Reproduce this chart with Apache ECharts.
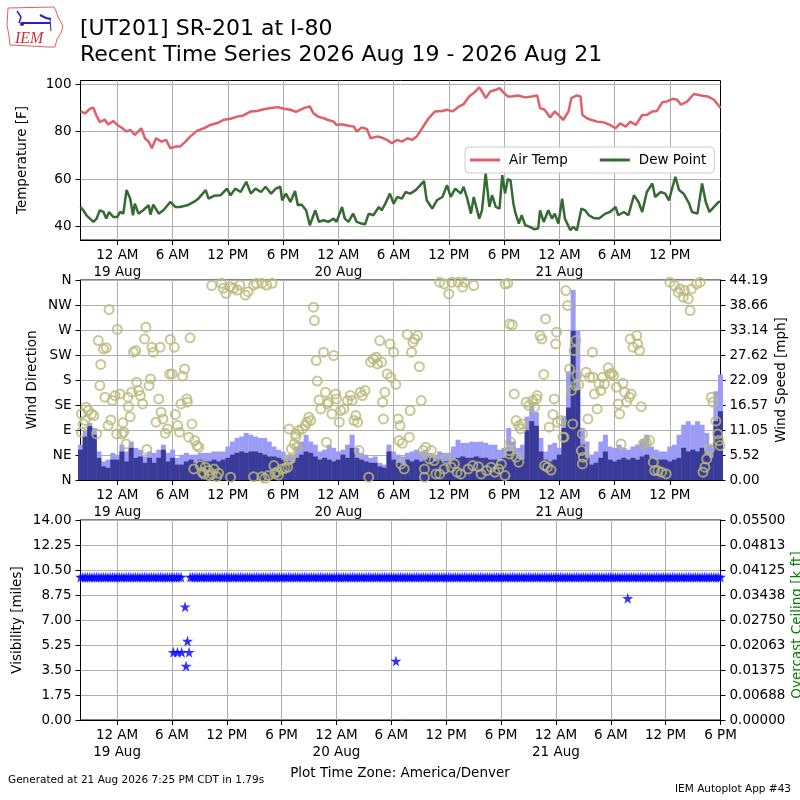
<!DOCTYPE html>
<html>
<head>
<meta charset="utf-8">
<title>[UT201] SR-201 at I-80</title>
<script src="https://cdn.jsdelivr.net/npm/echarts@6/dist/echarts.min.js"></script>
<style>
html, body { margin: 0; padding: 0; background: #fff; }
#main { width: 800px; height: 800px; }
</style>
</head>
<body>
<div id="main"></div>
<script>
// hours are counted from 12 AM 19 Aug (America/Denver)
var tickHours = [0, 6, 12, 18, 24, 30, 36, 42, 48, 54, 60];
var tickHoursVis = [0, 6, 12, 18, 24, 30, 36, 42, 48, 54, 60, 66];
var tempTicks = [40, 60, 80, 100];
var dirLabels = ['N', 'NE', 'E', 'SE', 'S', 'SW', 'W', 'NW', 'N'];

// [hour, F]
var airTemp = [
    [-4.0, 88.5], [-3.5, 87.7], [-3.0, 89.6], [-2.6, 90.1], [-2.3, 87], [-1.9, 84], [-1.35, 85], [-1.0, 83],
    [-0.45, 84.5], [0, 82.8], [0.45, 81.7], [1.0, 80], [1.4, 80.7], [1.9, 78.6], [2.6, 81.4], [3.0, 77.2],
    [3.4, 75.8], [3.75, 73], [4.2, 77.2], [4.8, 75.8], [5.3, 76.5], [5.75, 73], [6.3, 73.7], [6.8, 73.7],
    [7.4, 75.8], [7.9, 77.9], [8.65, 80.3], [9.4, 81.4], [10.1, 82.8], [10.8, 83.5], [11.6, 85], [12.3, 85.4],
    [13.0, 86.3], [13.7, 86.8], [14.5, 88.5], [15.2, 88.7], [15.9, 89.4], [16.7, 89.9], [17.4, 90.3], [18.1, 89.6],
    [18.8, 89.2], [19.4, 88.3], [19.9, 89.2], [20.4, 90.1], [20.9, 90.6], [21.3, 87.7], [21.8, 86.3], [22.4, 85.6],
    [22.9, 84.9], [23.5, 84.2], [23.8, 82.8], [24.4, 83.1], [25.1, 82.5], [25.7, 82.1], [26.0, 80], [26.5, 81.7],
    [27.1, 81.1], [27.5, 77.2], [28.2, 77.9], [28.7, 77.5], [29.3, 76.5], [29.8, 75.1], [30.4, 76.5], [30.9, 75.8],
    [31.5, 77.2], [32.0, 76.5], [32.5, 77.9], [33.1, 81.4], [33.8, 85.6], [34.5, 88.5], [35.3, 88.7], [35.8, 89.2],
    [36.4, 88.5], [37.1, 90.6], [37.6, 91.5], [38.2, 94.8], [38.7, 96.2], [39.3, 98.6], [39.6, 96.9], [40.0, 94.1],
    [40.5, 96.9], [41.1, 97.6], [41.5, 98.3], [42.0, 96.2], [42.4, 94.8], [42.8, 94.8], [43.5, 95.2], [44.3, 94.4],
    [45.0, 94.8], [45.6, 95.2], [45.9, 89.9], [46.4, 89.2], [47.0, 85.9], [47.5, 88.5], [48.1, 86.3], [48.4, 84.9],
    [49.0, 88.5], [49.3, 94.1], [49.9, 95.2], [50.3, 94.8], [50.5, 87], [51.0, 85.6], [51.5, 84.9], [52.1, 84.2],
    [52.8, 83.9], [53.5, 82.8], [54.1, 81.4], [54.6, 83.5], [55.2, 82.1], [55.7, 84.2], [56.3, 82.8], [57.0, 87],
    [57.5, 87], [58.1, 88.5], [58.6, 88.7], [59.2, 92.4], [59.7, 92.7], [60.3, 93.8], [60.8, 93.4], [61.2, 91.3],
    [61.9, 92.7], [62.6, 95.8], [63.4, 95.2], [64.1, 94.8], [64.8, 93.4], [65.5, 89.9]
];

var dewPoint = [
    [-4.0, 48.3], [-3.7, 46.9], [-3.35, 44.8], [-2.6, 42], [-2.25, 43.4], [-1.9, 46.9], [-1.5, 46.2], [-1.2, 43.4],
    [-0.9, 46.2], [-0.44, 44.1], [0, 44.1], [0.3, 46.2], [0.65, 45.5], [1.0, 55.4], [1.4, 51.8], [1.7, 44.8],
    [1.9, 49.7], [2.3, 45.5], [2.8, 46.9], [3.4, 49], [3.6, 45.1], [3.9, 49.3], [4.5, 45.5], [5.0, 46.9],
    [5.75, 50.4], [6.3, 48.3], [6.8, 48.3], [7.6, 49], [8.3, 50.4], [8.8, 51.8], [9.6, 55.4], [9.9, 51.8],
    [10.5, 53], [11.2, 53.2], [11.9, 56], [12.3, 53.2], [12.8, 56], [13.4, 54.6], [14.0, 58.9], [14.5, 53.9],
    [15.0, 56], [15.6, 54.6], [16.1, 56.8], [16.7, 53.9], [17.2, 56], [17.7, 56.8], [17.9, 51.1], [18.3, 53.9],
    [18.8, 50.4], [19.3, 55], [19.6, 49], [20.0, 49.3], [20.5, 46.9], [20.9, 40.6], [21.5, 46.9], [21.9, 42],
    [22.4, 42.7], [22.9, 42], [23.5, 43.4], [23.8, 42], [24.4, 48.3], [24.7, 43.4], [25.1, 42], [25.6, 45.5],
    [26.0, 42], [26.5, 41.3], [26.9, 41], [27.3, 45.5], [27.8, 44.8], [28.4, 48.3], [28.7, 46.9], [29.1, 49.7],
    [29.6, 53.9], [30.0, 49.7], [30.4, 52.5], [30.9, 51.8], [31.3, 54.6], [31.8, 53.9], [32.4, 55.4], [32.9, 57.5],
    [33.3, 59.2], [33.6, 51.1], [34.2, 47.6], [34.7, 51.1], [35.3, 52.5], [35.8, 57.5], [36.2, 52.5], [36.7, 56],
    [37.3, 53.9], [37.6, 56.8], [38.0, 51.8], [38.4, 45.5], [38.7, 52.5], [39.3, 43.4], [39.6, 46.9], [40.0, 62.4],
    [40.4, 48.3], [40.7, 53.2], [41.1, 48.3], [41.5, 47.6], [41.8, 61.7], [42.1, 54], [42.4, 60], [42.7, 59.5],
    [43.0, 50], [43.2, 46.2], [43.6, 41.3], [43.9, 44.8], [44.3, 40.6], [44.8, 39.9], [45.3, 38.9], [45.7, 39.2],
    [45.9, 46.9], [46.3, 42], [46.8, 46.9], [47.2, 43.4], [47.5, 45.5], [47.9, 41.3], [48.3, 51.8], [48.6, 43.4],
    [49.2, 38.5], [49.5, 39.9], [49.9, 38.5], [50.4, 47.6], [50.8, 46.9], [51.2, 44.8], [51.7, 43.7], [52.3, 43.4],
    [53.0, 45.5], [53.5, 46.2], [54.1, 48.3], [54.4, 44.8], [55.0, 46.2], [55.5, 44.8], [56.1, 53.2], [56.6, 50.4],
    [57.0, 46.2], [57.5, 54.6], [58.1, 58.2], [58.4, 52.5], [59.0, 54.6], [59.5, 53.9], [59.9, 51.1], [60.3, 56.8],
    [60.6, 61], [61.0, 55.4], [61.5, 53.9], [62.1, 49.7], [62.4, 46.2], [63.0, 45.5], [63.5, 58.2], [63.9, 50.4],
    [64.3, 46.2], [64.8, 48.3], [65.3, 50.4], [65.5, 50.5]
];

// half hourly wind obs times
var windHours = [
    -4, -3.5, -3, -2.5, -2, -1.5, -1, -0.5,
    0, 0.5, 1, 1.5, 2, 2.5, 3, 3.5, 4, 4.5, 5, 5.5, 6, 6.5, 7, 7.5, 8, 8.5, 9, 9.5, 10, 10.5, 11, 11.5,
    12, 12.5, 13, 13.5, 14, 14.5, 15, 15.5, 16, 16.5, 17, 17.5, 18, 18.5, 19, 19.5, 20, 20.5, 21, 21.5, 22, 22.5, 23, 23.5,
    24, 24.5, 25, 25.5, 26, 26.5, 27, 27.5, 28, 28.5, 29, 29.5, 30, 30.5, 31, 31.5, 32, 32.5, 33, 33.5, 34, 34.5, 35, 35.5,
    36, 36.5, 37, 37.5, 38, 38.5, 39, 39.5, 40, 40.5, 41, 41.5, 42, 42.5, 43, 43.5, 44, 44.5, 45, 45.5, 46, 46.5, 47, 47.5,
    48, 48.5, 49, 49.5, 50, 50.5, 51, 51.5, 52, 52.5, 53, 53.5, 54, 54.5, 55, 55.5, 56, 56.5, 57, 57.5, 58, 58.5, 59, 59.5,
    60, 60.5, 61, 61.5, 62, 62.5, 63, 63.5, 64, 64.5, 65, 65.5
];

// mph
var windSpeed = [
    6.7, 9.6, 11.9, 10, 4.9, 3, 2.7, 4.5,
    4.5, 6.3, 4.1, 7.1, 4.9, 5.2, 3.8, 4.9,
    3.8, 4.9, 6.7, 4.1, 4.9, 3.4, 3.4, 4.1,
    4.5, 3.8, 4.5, 4.1, 4.1, 4.5, 4.1, 4.5,
    4.9, 5.6, 6, 6.3, 6, 6.3, 6.3, 6,
    5.6, 5.2, 5.2, 4.9, 4.5, 4.1, 3.8, 4.9,
    5.6, 6.3, 6, 5.2, 4.5, 4.9, 4.5, 4.1,
    4.5, 5.6, 4.9, 7.1, 4.9, 4.5, 4.1, 3.8,
    3.8, 3, 2.7, 6.3, 4.5, 3.8, 3.4, 4.5,
    4.1, 4.5, 4.1, 4.5, 4.9, 4.1, 4.5, 4.1,
    4.1, 4.5, 4.9, 5.2, 4.9, 4.9, 5.2, 4.9,
    4.9, 4.5, 4.5, 4.1, 4.9, 6.3, 6.3, 4.9,
    4.5, 11, 13, 12, 6.3, 4.5, 4.1, 4.5,
    5.6, 11.5, 16, 33, 20, 7.8, 4.9, 3.4,
    3.8, 4.9, 6.3, 4.5, 4.1, 4.5, 4.9, 4.5,
    4.9, 4.5, 5.2, 5.6, 4.9, 4.5, 4.5, 4.5,
    4.1, 4.5, 4.9, 7.1, 6.3, 6.7, 6.3, 7.1,
    5.6, 4.9, 13, 15.2
];

var windGust = [
    7.8, 11, 12.6, 11.5, 6.3, 4.1, 4.5, 6,
    5.6, 7.8, 6.3, 8.5, 7.1, 6.7, 5.2, 6.3,
    6, 6.7, 7.8, 6, 6.7, 4.9, 5.6, 6,
    5.6, 5.6, 6, 6, 6, 6.3, 6.3, 6.3,
    7.4, 8.5, 9.3, 9.6, 10.4, 10, 9.6, 9.3,
    9.3, 8.5, 7.4, 6.7, 6.3, 5.6, 5.6, 7.4,
    8.5, 10, 8.5, 7.8, 6.3, 6.7, 7.8, 7.1,
    6.3, 6.7, 7.8, 10, 7.1, 6, 5.6, 4.9,
    5.2, 3.8, 3.4, 7.8, 6.3, 5.6, 5.2, 6,
    6.3, 6.7, 6.3, 6.7, 6, 5.6, 6.3, 6,
    6, 7.4, 8.9, 8.2, 8.2, 8.5, 8.4, 8.5,
    8.2, 7.8, 7.8, 6.7, 7.1, 11.5, 8.5, 7.1,
    7.8, 14, 17, 15, 9.3, 6.3, 7.8, 8.2,
    7.1, 14.1, 24, 42, 33, 11.5, 8.5, 5.6,
    6.3, 8.5, 10, 7.4, 7.1, 7.8, 7.1, 6.7,
    7.4, 7.8, 8.9, 10, 7.4, 6.7, 6.3, 6.3,
    7.4, 7.8, 10, 12.2, 13, 12.2, 13, 12.2,
    10.4, 7.8, 19.6, 23.3
];

// [hour, degrees]
var windDir = [
    [-3.9, 119], [-3.9, 86], [-3.7, 101], [-3.5, 107], [-3.4, 131], [-3.15, 125], [-2.8, 119], [-2.55, 116], [-2.25, 83], [-2.07, 251],
    [-1.9, 170], [-1.8, 208], [-1.5, 236], [-1.35, 149], [-1.2, 238], [-1.0, 98], [-0.9, 307], [-0.7, 108], [-0.55, 143], [-0.25, 152],
    [-0.07, 83], [0, 271], [0.3, 155], [0.5, 83], [0.6, 103], [0.7, 86], [0.95, 65], [1.15, 149], [1.2, 132], [1.4, 114],
    [1.55, 158], [1.75, 230], [2.0, 233], [2.1, 176], [2.3, 161], [2.5, 152], [2.75, 137], [2.95, 254], [3.1, 275], [3.2, 55],
    [3.45, 170], [3.6, 182], [3.75, 239], [3.9, 230], [4.2, 104], [4.5, 146], [4.65, 239], [4.75, 122], [4.95, 110], [5.2, 84],
    [5.45, 92], [5.7, 191], [5.75, 253], [5.95, 191], [6.2, 239], [6.3, 118], [6.55, 98], [6.75, 86], [6.9, 137], [7.1, 187],
    [7.3, 200], [7.55, 146], [7.6, 140], [7.75, 77], [7.9, 256], [8.1, 101], [8.3, 20], [8.4, 71], [8.65, 62], [8.85, 59],
    [9.0, 26], [9.2, 14], [9.4, 11], [9.55, 23], [9.9, 17], [10.0, 8], [10.25, 350], [10.3, 11], [10.5, 20], [10.8, 6],
    [11.0, 12], [11.3, 354], [11.5, 345], [11.8, 336], [12.25, 348], [12.3, 5], [12.6, 345], [13.0, 342], [13.3, 351], [13.9, 333],
    [14.2, 339], [14.8, 351], [14.8, 6], [15.1, 354], [15.7, 354], [15.7, 6], [16.0, 3], [16.2, 351], [16.4, 8], [16.8, 354],
    [17.0, 26], [17.1, 12], [17.4, 15], [17.5, 9], [17.9, 20], [18.2, 21], [18.5, 23], [18.6, 36], [18.65, 92], [18.8, 38],
    [18.9, 56], [19.2, 65], [19.35, 83], [19.4, 78], [19.5, 59], [19.7, 89], [20.1, 92], [20.4, 98], [20.6, 104], [20.8, 113],
    [21.0, 107], [21.3, 311], [21.4, 287], [21.6, 215], [21.7, 178], [21.9, 144], [22.1, 128], [22.4, 230], [22.6, 158], [22.7, 68],
    [22.8, 137], [22.95, 140], [23.3, 119], [23.5, 224], [23.7, 155], [23.8, 146], [24.1, 104], [24.25, 125], [24.6, 128], [25.0, 143],
    [25.3, 152], [25.5, 143], [25.7, 107], [25.9, 116], [26.1, 104], [26.25, 53], [26.4, 158], [26.6, 152], [26.9, 161], [27.3, 5],
    [27.5, 212], [27.8, 218], [28.1, 221], [28.25, 209], [28.5, 251], [28.7, 212], [28.8, 140], [28.9, 110], [29.05, 158], [29.3, 191],
    [29.6, 245], [29.7, 185], [30.0, 230], [30.25, 172], [30.5, 110], [30.6, 71], [30.7, 98], [30.8, 29], [30.95, 66], [31.15, 20],
    [31.5, 262], [31.7, 77], [31.8, 125], [31.95, 230], [32.1, 248], [32.3, 254], [32.6, 260], [32.8, 204], [33.0, 143], [33.2, 53],
    [33.35, 20], [33.35, 5], [33.5, 59], [33.9, 38], [34.1, 53], [34.4, 35], [34.6, 11], [35.0, 11], [35.0, 356], [35.5, 20],
    [35.5, 353], [35.7, 38], [36.0, 335], [36.25, 23], [36.3, 356], [36.6, 29], [36.9, 14], [37.0, 356], [37.3, 11], [37.5, 347],
    [37.7, 356], [38.1, 20], [38.6, 26], [38.7, 350], [39.2, 24], [39.5, 11], [40.1, 17], [40.6, 23], [41.0, 14], [41.4, 20],
    [41.7, 29], [42.1, 8], [42.1, 353], [42.4, 354], [42.55, 53], [42.6, 47], [42.6, 281], [42.7, 68], [42.9, 279], [43.1, 155],
    [43.3, 107], [43.3, 41], [43.6, 98], [43.6, 32], [43.8, 92], [43.95, 101], [44.4, 140], [44.7, 134], [45.1, 143], [45.3, 131],
    [45.5, 146], [45.6, 152], [45.9, 260], [46.1, 254], [46.3, 190], [46.4, 26], [46.5, 290], [46.7, 23], [46.9, 95], [47.1, 18],
    [47.3, 118], [47.45, 146], [47.6, 245], [47.7, 266], [47.8, 104], [48.2, 107], [48.4, 77], [48.5, 77], [48.7, 341], [48.9, 314],
    [49.1, 200], [49.3, 161], [49.45, 101], [49.6, 233], [49.75, 170], [49.8, 251], [49.9, 188], [50.1, 172], [50.4, 53], [50.5, 83],
    [50.5, 29], [50.6, 41], [50.9, 194], [51.1, 110], [51.3, 185], [51.6, 230], [51.65, 185], [51.8, 155], [52.1, 128], [52.3, 173],
    [52.5, 161], [52.7, 185], [52.9, 173], [53.3, 202], [53.45, 191], [53.7, 192], [53.9, 188], [54.2, 167], [54.4, 137], [54.55, 119],
    [54.7, 65], [54.9, 174], [55.1, 158], [55.3, 140], [55.6, 149], [55.7, 254], [55.8, 155], [56.0, 239], [56.4, 260], [56.5, 245],
    [56.7, 233], [56.9, 132], [57.1, 65], [57.45, 68], [57.8, 71], [58.2, 32], [58.35, 17], [58.7, 17], [59.1, 14], [59.6, 11],
    [60.0, 356], [60.5, 350], [60.9, 338], [61.1, 344], [61.45, 329], [61.6, 341], [62.0, 326], [62.2, 305], [62.35, 344], [62.9, 353],
    [63.3, 356], [63.6, 14], [63.8, 23], [64.0, 38], [64.3, 56], [64.5, 149], [64.7, 140], [65.0, 106], [65.2, 83], [65.3, 71],
    [65.45, 62]
];

// quarter hourly visibility obs times
var visHours = [
    -4, -3.75, -3.5, -3.25, -3, -2.75, -2.5, -2.25, -2, -1.75, -1.5, -1.25, -1, -0.75, -0.5, -0.25,
    0, 0.25, 0.5, 0.75, 1, 1.25, 1.5, 1.75, 2, 2.25, 2.5, 2.75, 3, 3.25, 3.5, 3.75, 4, 4.25, 4.5, 4.75, 5, 5.25, 5.5, 5.75,
    6, 6.25, 6.5, 6.75, 7, 7.25, 7.5, 7.75, 8, 8.25, 8.5, 8.75, 9, 9.25, 9.5, 9.75, 10, 10.25, 10.5, 10.75, 11, 11.25, 11.5, 11.75,
    12, 12.25, 12.5, 12.75, 13, 13.25, 13.5, 13.75, 14, 14.25, 14.5, 14.75, 15, 15.25, 15.5, 15.75, 16, 16.25, 16.5, 16.75,
    17, 17.25, 17.5, 17.75, 18, 18.25, 18.5, 18.75, 19, 19.25, 19.5, 19.75, 20, 20.25, 20.5, 20.75, 21, 21.25, 21.5, 21.75,
    22, 22.25, 22.5, 22.75, 23, 23.25, 23.5, 23.75,
    24, 24.25, 24.5, 24.75, 25, 25.25, 25.5, 25.75, 26, 26.25, 26.5, 26.75, 27, 27.25, 27.5, 27.75, 28, 28.25, 28.5, 28.75,
    29, 29.25, 29.5, 29.75, 30, 30.25, 30.5, 30.75, 31, 31.25, 31.5, 31.75, 32, 32.25, 32.5, 32.75, 33, 33.25, 33.5, 33.75,
    34, 34.25, 34.5, 34.75, 35, 35.25, 35.5, 35.75,
    36, 36.25, 36.5, 36.75, 37, 37.25, 37.5, 37.75, 38, 38.25, 38.5, 38.75, 39, 39.25, 39.5, 39.75, 40, 40.25, 40.5, 40.75,
    41, 41.25, 41.5, 41.75, 42, 42.25, 42.5, 42.75, 43, 43.25, 43.5, 43.75, 44, 44.25, 44.5, 44.75, 45, 45.25, 45.5, 45.75,
    46, 46.25, 46.5, 46.75, 47, 47.25, 47.5, 47.75,
    48, 48.25, 48.5, 48.75, 49, 49.25, 49.5, 49.75, 50, 50.25, 50.5, 50.75, 51, 51.25, 51.5, 51.75, 52, 52.25, 52.5, 52.75,
    53, 53.25, 53.5, 53.75, 54, 54.25, 54.5, 54.75, 55, 55.25, 55.5, 55.75, 56, 56.25, 56.5, 56.75, 57, 57.25, 57.5, 57.75,
    58, 58.25, 58.5, 58.75, 59, 59.25, 59.5, 59.75,
    60, 60.25, 60.5, 60.75, 61, 61.25, 61.5, 61.75, 62, 62.25, 62.5, 62.75, 63, 63.25, 63.5, 63.75, 64, 64.25, 64.5, 64.75,
    65, 65.25, 65.5, 65.75, 66
];

// miles (null = no report)
var visMiles = [
    10, 10, 10, 10, 10, 10, 10, 10, 10, 10, 10, 10, 10, 10, 10, 10,
    10, 10, 10, 10, 10, 10, 10, 10, 10, 10, 10, 10, 10, 10, 10, 10, 10, 10, 10, 10, 10, 10, 10, 10,
    10, 10, 10, 10, 10, null, null, null, 10, 10, 10, 10, 10, 10, 10, 10, 10, 10, 10, 10, 10, 10, 10, 10,
    10, 10, 10, 10, 10, 10, 10, 10, 10, 10, 10, 10, 10, 10, 10, 10, 10, 10, 10, 10,
    10, 10, 10, 10, 10, 10, 10, 10, 10, 10, 10, 10, 10, 10, 10, 10, 10, 10, 10, 10,
    10, 10, 10, 10, 10, 10, 10, 10,
    10, 10, 10, 10, 10, 10, 10, 10, 10, 10, 10, 10, 10, 10, 10, 10, 10, 10, 10, 10,
    10, 10, 10, 10, 10, 10, 10, 10, 10, 10, 10, 10, 10, 10, 10, 10, 10, 10, 10, 10,
    10, 10, 10, 10, 10, 10, 10, 10,
    10, 10, 10, 10, 10, 10, 10, 10, 10, 10, 10, 10, 10, 10, 10, 10, 10, 10, 10, 10,
    10, 10, 10, 10, 10, 10, 10, 10, 10, 10, 10, 10, 10, 10, 10, 10, 10, 10, 10, 10,
    10, 10, 10, 10, 10, 10, 10, 10,
    10, 10, 10, 10, 10, 10, 10, 10, 10, 10, 10, 10, 10, 10, 10, 10, 10, 10, 10, 10,
    10, 10, 10, 10, 10, 10, 10, 10, 10, 10, 10, 10, 10, 10, 10, 10, 10, 10, 10, 10,
    10, 10, 10, 10, 10, 10, 10, 10,
    10, 10, 10, 10, 10, 10, 10, 10, 10, 10, 10, 10, 10, 10, 10, 10, 10, 10, 10, 10,
    10, 10, 10, 10, 10
];

// reduced visibility reports [hour, miles]
var visLow = [
    [6.15, 4.74], [6.6, 4.74], [7.07, 4.74], [7.44, 7.93], [7.55, 3.78], [7.7, 5.53], [7.88, 4.74],
    [30.5, 4.13], [55.85, 8.52]
];

var FONT = 'DejaVu Sans';
var STAR = 'path://M50,0 L61,35 L98,35 L68,57 L79,91 L50,70 L21,91 L32,57 L2,35 L39,35 Z';

function hourLabel(v) {
    var h = ((v % 24) + 24) % 24;
    if (h === 0) return '12 AM\n' + (19 + v / 24) + ' Aug';
    if (h === 6) return '6 AM';
    if (h === 12) return '12 PM';
    return '6 PM';
}

function timeAxis(gi, max, ticks) {
    return {
        type: 'value',
        gridIndex: gi,
        min: -4,
        max: max,
        axisLine: { show: true, onZero: false, lineStyle: { color: '#000' } },
        axisTick: { show: true, length: 5, customValues: ticks, lineStyle: { color: '#000' } },
        axisLabel: {
            customValues: ticks, formatter: hourLabel, color: '#000',
            fontFamily: FONT, fontSize: 13.5, lineHeight: 17, margin: 7
        },
        splitLine: { show: true, lineStyle: { color: '#b0b0b0', width: 1 } }
    };
}

function valAxis(gi, pos, min, max, interval, fmt, split) {
    var ax = {
        type: 'value',
        gridIndex: gi,
        position: pos,
        min: min,
        max: max,
        axisLine: { show: true, onZero: false, lineStyle: { color: '#000' } },
        axisTick: { show: true, length: 5, lineStyle: { color: '#000' } },
        axisLabel: { formatter: fmt, color: '#000', fontFamily: FONT, fontSize: 13.5, margin: 9 },
        splitLine: { show: split, lineStyle: { color: '#b0b0b0', width: 1 } }
    };
    if (interval) ax.interval = interval;
    return ax;
}

function pairs(xs, ys) {
    var out = [];
    for (var i = 0; i < ys.length; i++) {
        if (ys[i] !== null) out.push([xs[i], ys[i]]);
    }
    return out;
}

function axisTitle(text, x, y, color) {
    return {
        type: 'text', x: x, y: y, rotation: Math.PI / 2,
        style: {
            text: text, x: 0, y: 0, align: 'center', verticalAlign: 'middle',
            fill: color || '#000', font: '13.5px "DejaVu Sans"'
        }
    };
}

var myChart = echarts.init(document.getElementById('main'));

var tempY = valAxis(0, 'left', 34.4, 101.5, null, null, true);
tempY.axisTick.customValues = tempTicks;
tempY.axisLabel.customValues = tempTicks;

var option = {
    animation: false,
    backgroundColor: '#fff',
    grid: [
        { left: 80.5, top: 80.5, width: 640, height: 159.5, show: true, borderColor: '#000', borderWidth: 1 },
        { left: 80.5, top: 280, width: 640, height: 200, show: true, borderColor: '#000', borderWidth: 1 },
        { left: 80.5, top: 520, width: 640, height: 200, show: true, borderColor: '#000', borderWidth: 1 }
    ],
    xAxis: [
        timeAxis(0, 65.5, tickHours),
        timeAxis(1, 65.5, tickHours),
        timeAxis(2, 66, tickHoursVis)
    ],
    yAxis: [
        tempY,
        valAxis(1, 'left', 0, 360, 45, function (v) { return dirLabels[Math.round(v / 45)]; }, true),
        valAxis(1, 'right', 0, 44.186, 5.52325, function (v) { return v.toFixed(2); }, false),
        valAxis(2, 'left', 0, 14, 1.75, function (v) { return v.toFixed(2); }, true),
        valAxis(2, 'right', 0, 0.055, 0.006875, function (v) { return (v + 1e-9).toFixed(5); }, false)
    ],
    legend: {
        data: ['Air Temp', 'Dew Point'],
        left: 465, top: 147,
        icon: 'rect',
        itemWidth: 30, itemHeight: 3, itemGap: 32,
        padding: [6, 8, 6, 5],
        borderColor: '#cccccc', borderWidth: 1, borderRadius: 4,
        backgroundColor: 'rgba(255,255,255,0.85)',
        textStyle: { color: '#000', fontFamily: FONT, fontSize: 13.5, padding: [0, 0, 0, 4] }
    },
    graphic: [
        // IEM logo
        { type: 'polyline', shape: { points: [[8, 8], [54, 7], [56, 11], [58, 17], [63, 26], [61, 33], [57, 39], [55, 47], [49, 47], [10, 45], [9, 36], [7, 25], [8, 8]] },
          style: { stroke: '#e06060', fill: 'none', lineWidth: 1 } },
        { type: 'polyline', shape: { points: [[17, 11], [21, 17], [19, 23]] }, style: { stroke: '#2020d0', lineWidth: 1.5, fill: 'none' } },
        { type: 'line', shape: { x1: 21, y1: 23, x2: 50, y2: 23 }, style: { stroke: '#2020d0', lineWidth: 2 } },
        { type: 'polyline', shape: { points: [[40, 15], [46, 18], [51, 19]] }, style: { stroke: '#2020d0', lineWidth: 2, fill: 'none' } },
        { type: 'line', shape: { x1: 50, y1: 19, x2: 51, y2: 31 }, style: { stroke: '#2020d0', lineWidth: 1 } },
        { type: 'circle', shape: { cx: 22, cy: 24, r: 2 }, style: { fill: '#2020d0' } },
        { type: 'text', x: 15, y: 39, style: { text: 'IEM', fill: '#d03030', font: 'italic 16px "Liberation Serif"', verticalAlign: 'middle' } },
        // titles
        { type: 'text', x: 80, y: 29, style: { text: '[UT201] SR-201 at I-80', fill: '#000', font: '22px "DejaVu Sans"', verticalAlign: 'middle' } },
        { type: 'text', x: 80, y: 55.5, style: { text: 'Recent Time Series 2026 Aug 19 - 2026 Aug 21', fill: '#000', font: '22px "DejaVu Sans"', verticalAlign: 'middle' } },
        // axis titles
        axisTitle('Temperature [F]', 22.5, 160),
        axisTitle('Wind Direction', 32.5, 380),
        axisTitle('Wind Speed [mph]', 781, 380),
        axisTitle('Visibility [miles]', 17.5, 620),
        axisTitle('Overcast Ceiling [k ft]', 797, 625, '#008000'),
        // footer
        { type: 'text', x: 400, y: 773, style: { text: 'Plot Time Zone: America/Denver', fill: '#000', font: '13.5px "DejaVu Sans"', align: 'center', verticalAlign: 'middle' } },
        { type: 'text', x: 8, y: 780.5, style: { text: 'Generated at 21 Aug 2026 7:25 PM CDT in 1.79s', fill: '#000', font: '10.5px "DejaVu Sans"', verticalAlign: 'middle' } },
        { type: 'text', x: 791, y: 789.5, style: { text: 'IEM Autoplot App #43', fill: '#000', font: '10.5px "DejaVu Sans"', align: 'right', verticalAlign: 'middle' } }
    ],
    series: [
        {
            name: 'Air Temp', type: 'line', xAxisIndex: 0, yAxisIndex: 0,
            data: airTemp, symbol: 'none', color: '#e0606a',
            lineStyle: { width: 2.5, color: '#e0606a' }
        },
        {
            name: 'Dew Point', type: 'line', xAxisIndex: 0, yAxisIndex: 0,
            data: dewPoint, symbol: 'none', color: '#356b33',
            lineStyle: { width: 2.5, color: '#356b33' }
        },
        {
            name: 'Wind Gust', type: 'bar', xAxisIndex: 1, yAxisIndex: 2,
            data: pairs(windHours, windGust), barWidth: 5, barGap: '-100%', clip: true,
            itemStyle: { color: '#9c9cf6' }
        },
        {
            name: 'Wind Speed', type: 'bar', xAxisIndex: 1, yAxisIndex: 2,
            data: pairs(windHours, windSpeed), barWidth: 5, barGap: '-100%', clip: true,
            itemStyle: { color: '#3a3a98' }
        },
        {
            name: 'Wind Direction', type: 'scatter', xAxisIndex: 1, yAxisIndex: 1,
            data: windDir, symbol: 'circle', symbolSize: 9, clip: true, z: 5,
            itemStyle: { color: 'rgba(0,0,0,0)', borderColor: '#b9b97a', borderWidth: 2 }
        },
        {
            name: 'Visibility', type: 'scatter', xAxisIndex: 2, yAxisIndex: 3,
            data: pairs(visHours, visMiles), symbol: STAR, symbolSize: 11, clip: true,
            itemStyle: { color: '#0000ff' }
        },
        {
            name: 'Visibility Low', type: 'scatter', xAxisIndex: 2, yAxisIndex: 3,
            data: visLow, symbol: STAR, symbolSize: 11, clip: true,
            itemStyle: { color: '#0000ff' }
        }
    ]
};

// 为echarts对象加载数据
myChart.setOption(option);
</script>
</body>
</html>
